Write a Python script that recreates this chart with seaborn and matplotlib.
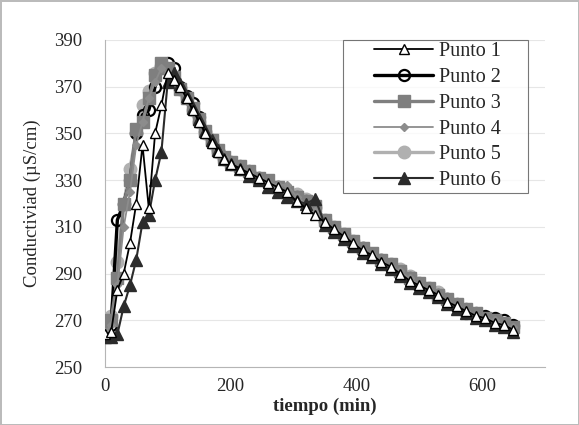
import matplotlib
matplotlib.use("Agg")
import matplotlib.pyplot as plt
from matplotlib.lines import Line2D
from matplotlib.legend_handler import HandlerLine2D
import seaborn as sns
import pandas as pd

sns.set_style("white")
plt.rcParams['font.family'] = ['Liberation Serif', 'DejaVu Serif']

tiempo = [0, 10, 20, 30, 40, 50, 60, 70, 80, 90, 100, 110, 120, 130, 140, 150, 160, 170, 180, 190, 200,
          215, 230, 245, 260, 275, 290, 305, 320, 335, 350, 365, 380, 395, 410, 425, 440, 455, 470, 485,
          500, 515, 530, 545, 560, 575, 590, 605, 620, 635, 650]

punto1 = [264, 265, 283, 290, 303, 320, 345, 318, 350, 362, 376, 373, 370, 365, 360, 355, 350, 346, 342, 339, 337,
          335, 333, 331, 329, 327, 325, 321, 318, 315, 312, 309, 306, 303, 300, 298, 295, 293, 290, 287,
          285, 283, 281, 278, 276, 274, 272, 271, 269, 268, 266]
punto2 = [267, 268, 313, 320, 330, 350, 358, 360, 370, 378, 380, 378, 370, 366, 363, 357, 351, 347, 343, 340, 338,
          336, 334, 331, 329, 327, 325, 323, 321, 318, 312, 309, 306, 303, 301, 298, 296, 293, 290, 288,
          285, 283, 281, 279, 277, 275, 273, 272, 271, 270, 268]
punto3 = [267, 270, 288, 320, 330, 352, 355, 365, 375, 380, 378, 374, 369, 365, 361, 356, 351, 347, 343, 340, 338,
          336, 334, 331, 330, 327, 325, 323, 321, 319, 313, 310, 307, 304, 301, 299, 296, 294, 291, 288,
          286, 284, 281, 279, 277, 275, 273, 271, 270, 269, 267]
punto4 = [265, 268, 285, 310, 325, 345, 355, 365, 372, 378, 376, 373, 369, 364, 360, 355, 350, 346, 343, 340, 337,
          335, 333, 331, 329, 328, 328, 323, 320, 317, 312, 309, 306, 303, 300, 298, 295, 293, 291, 288,
          285, 283, 281, 278, 276, 274, 272, 271, 270, 268, 267]
punto5 = [266, 272, 295, 320, 335, 350, 362, 368, 376, 379, 377, 373, 369, 365, 360, 355, 350, 346, 342, 339, 337,
          335, 333, 331, 329, 327, 325, 324, 322, 319, 313, 310, 307, 304, 301, 298, 296, 294, 292, 289,
          286, 284, 282, 279, 276, 273, 272, 271, 270, 268, 267]
punto6 = [263, 263, 264, 276, 285, 296, 312, 315, 330, 342, 372, 376, 371, 366, 361, 356, 351, 347, 343, 339, 337,
          335, 332, 330, 327, 325, 323, 321, 320, 322, 311, 308, 305, 302, 299, 297, 294, 292, 289, 286,
          284, 282, 280, 277, 275, 273, 271, 270, 268, 267, 265]

nombres = ["Punto 1", "Punto 2", "Punto 3", "Punto 4", "Punto 5", "Punto 6"]
series = [punto1, punto2, punto3, punto4, punto5, punto6]

estilos = {
    "Punto 1": dict(color="black", lw=1.3, marker="^", ms=7, mfc="white", mec="black", mew=1.0, z=6),
    "Punto 2": dict(color="black", lw=2.4, marker="o", ms=8, mfc="none", mec="black", mew=1.6, z=2),
    "Punto 3": dict(color="#7f7f7f", lw=2.4, marker="s", ms=8, mfc="#7f7f7f", mec="#7f7f7f", mew=1, z=3),
    "Punto 4": dict(color="#8c8c8c", lw=1.3, marker="D", ms=4.5, mfc="#8c8c8c", mec="#8c8c8c", mew=1, z=4),
    "Punto 5": dict(color="#b0b0b0", lw=2.4, marker="o", ms=9, mfc="#b0b0b0", mec="#b0b0b0", mew=1, z=1),
    "Punto 6": dict(color="#2b2b2b", lw=1.5, marker="^", ms=8, mfc="#2b2b2b", mec="#2b2b2b", mew=1, z=5),
}

df = pd.concat([pd.DataFrame({"tiempo": tiempo, "valor": v, "serie": n}) for n, v in zip(nombres, series)])

fig = plt.figure(figsize=(5.79, 4.25), dpi=100)
fig.patch.set_edgecolor("#bbbbbb")
fig.patch.set_linewidth(2)
ax = fig.add_axes([0.181, 0.136, 0.76, 0.77])

for n in nombres:
    s = estilos[n]
    sns.lineplot(data=df[df.serie == n], x="tiempo", y="valor", ax=ax, label=n,
                 color=s["color"], linewidth=s["lw"], marker=s["marker"], markersize=s["ms"],
                 markerfacecolor=s["mfc"], markeredgecolor=s["mec"], markeredgewidth=s["mew"],
                 zorder=s["z"], estimator=None)

ax.set_xlim(0, 700)
ax.set_ylim(250, 390)
ax.set_xticks([0, 200, 400, 600])
ax.set_yticks(range(250, 391, 20))
ax.yaxis.grid(True, color="#e6e6e6", linewidth=0.8)
ax.set_axisbelow(True)
for sp in ["top", "right"]:
    ax.spines[sp].set_visible(False)
for sp in ["left", "bottom"]:
    ax.spines[sp].set_color("#b5b5b5")
ax.tick_params(axis="y", labelsize=13.5, length=0, pad=16)
ax.tick_params(axis="x", labelsize=13.5, length=0, pad=8)

ax.set_xlabel("tiempo (min)", fontsize=13.5, fontweight="bold", labelpad=2)
ax.set_ylabel("Conductiviad (µS/cm)", fontsize=13.5, labelpad=10)

leg = ax.legend(loc="upper left", bbox_to_anchor=(0.541, 0.0, 0.42, 1.0), mode="expand",
                borderaxespad=0, fontsize=14.5,
                frameon=True, fancybox=False, edgecolor="#555555", handlelength=4.35,
                labelspacing=0.33, borderpad=0.12, handletextpad=0.3,
                handler_map={Line2D: HandlerLine2D(xpad=1.44)})
leg.get_frame().set_linewidth(0.8)

fig.savefig("out.png", dpi=100)
